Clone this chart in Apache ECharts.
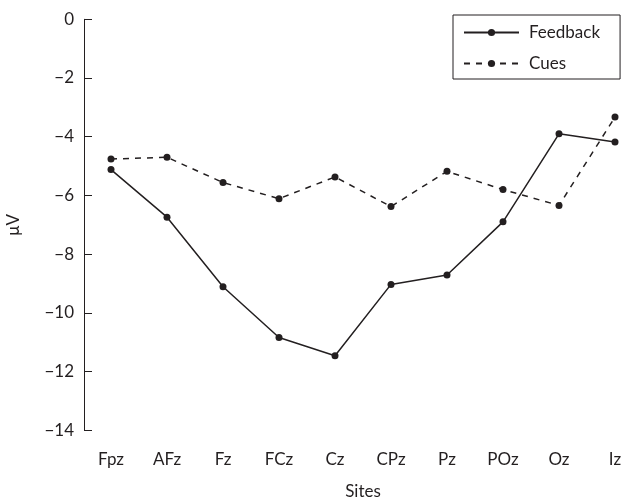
<!DOCTYPE html>
<html><head><meta charset="utf-8">
<script src="https://cdn.jsdelivr.net/npm/echarts@6/dist/echarts.min.js"></script>
<style>html,body{margin:0;padding:0;background:#fff}#c{width:624px;height:500px}</style>
</head><body><div id="c"></div>
<script>
const sites = ['Fpz','AFz','Fz','FCz','Cz','CPz','Pz','POz','Oz','Iz'];
const feedback = [-5.12, -6.74, -9.11, -10.84, -11.46, -9.03, -8.71, -6.90, -3.90, -4.18];
const cues = [-4.76, -4.70, -5.56, -6.11, -5.37, -6.38, -5.18, -5.80, -6.34, -3.33];
const yTicks = {min: -14, max: 0, interval: 2};

const ink = '#231f20';
const font = 'Lato';
const chart = echarts.init(document.getElementById('c'));
chart.setOption({
  animation: false,
  backgroundColor: '#fff',
  textStyle: {fontFamily: font, color: ink},
  grid: {left: 111, right: 9, top: 19.3, bottom: 69.7, outerBoundsMode: 'none', containLabel: false},
  legend: {
    orient: 'vertical', left: 453, top: 15,
    padding: [9, 20, 7, 10],
    borderColor: ink, borderWidth: 1, borderRadius: 0,
    itemWidth: 55, itemHeight: 9, itemGap: 14,
    textStyle: {fontFamily: font, fontSize: 17, color: ink, padding: [0, 0, 0, 5]},
    data: ['Feedback', 'Cues']
  },
  xAxis: {
    type: 'category', data: sites, boundaryGap: false,
    name: 'Sites', nameLocation: 'middle', nameGap: 53,
    nameTextStyle: {fontFamily: font, fontSize: 17, color: ink},
    axisLine: {show: false}, axisTick: {show: false},
    axisLabel: {margin: 21, fontFamily: font, fontSize: 17, color: ink},
    splitLine: {show: false}
  },
  yAxis: {
    type: 'value', min: yTicks.min, max: yTicks.max, interval: yTicks.interval,
    offset: 27,
    name: 'μV', nameLocation: 'middle', nameGap: 62,
    nameTextStyle: {fontFamily: font, fontSize: 17, color: ink},
    axisLine: {show: true, lineStyle: {color: ink, width: 1}},
    axisTick: {show: true, inside: true, length: 8, lineStyle: {color: ink, width: 1}},
    axisLabel: {margin: 10, fontFamily: font, fontSize: 17, color: ink,
      formatter: v => String(v).replace('-', '\u2212')},
    splitLine: {show: false}
  },
  series: [
    {name: 'Feedback', type: 'line', data: feedback, symbol: 'circle', symbolSize: 7,
     lineStyle: {color: ink, width: 1.5, type: 'solid'}, itemStyle: {color: ink}},
    {name: 'Cues', type: 'line', data: cues, symbol: 'circle', symbolSize: 7,
     lineStyle: {color: ink, width: 1.5, type: [6, 6]}, itemStyle: {color: ink}}
  ]
});
</script></body></html>
